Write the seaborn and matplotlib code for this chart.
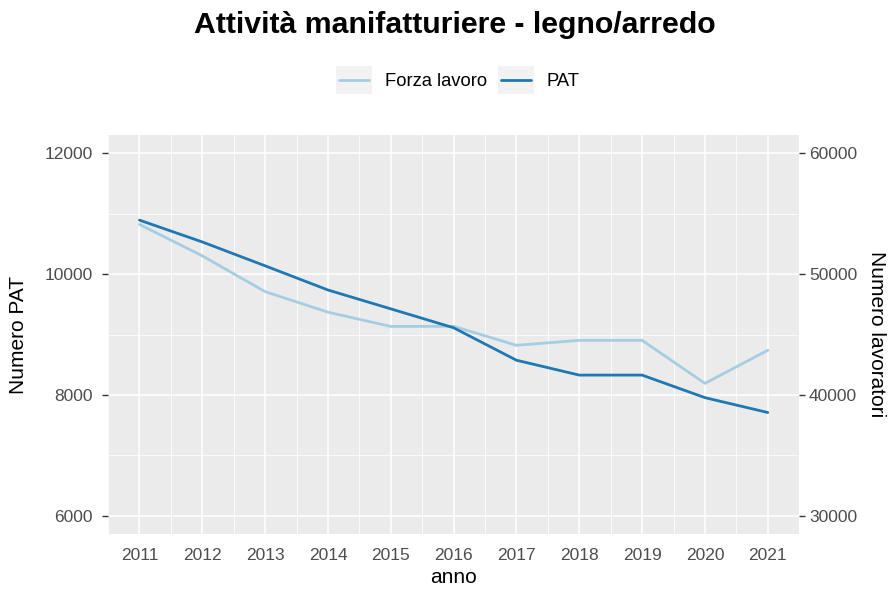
import matplotlib
matplotlib.use("Agg")
import matplotlib.pyplot as plt
from matplotlib.patches import Rectangle
from matplotlib.lines import Line2D
from matplotlib.legend_handler import HandlerBase
import seaborn as sns
import pandas as pd
import numpy as np

anni = [2011, 2012, 2013, 2014, 2015, 2016, 2017, 2018, 2019, 2020, 2021]
pat = [10893, 10532, 10137, 9737, 9425, 9112, 8575, 8329, 8329, 7956, 7710]
forza_lavoro = [54110, 51510, 48550, 46850, 45670, 45680, 44110, 44520, 44520, 40960, 43700]
serie = ["Forza lavoro", "PAT"]
colori = ["#A6CEE3", "#1F78B4"]
fattore = 5
y_ticks_sx = [6000, 8000, 10000, 12000]
y_ticks_dx = [30000, 40000, 50000, 60000]

df = pd.concat([
    pd.DataFrame({"anno": anni, "valore": np.array(forza_lavoro) / fattore, "serie": serie[0]}),
    pd.DataFrame({"anno": anni, "valore": pat, "serie": serie[1]}),
])

sns.set_theme(style="darkgrid")
plt.rcParams["font.family"] = ["Liberation Sans", "DejaVu Sans"]

fig = plt.figure(figsize=(8.89, 5.95), dpi=100)
ax = fig.add_axes([0.1215, 0.1025, 0.899 - 0.1215, 0.773 - 0.1025])
ax.set_facecolor("#EBEBEB")

sns.lineplot(data=df, x="anno", y="valore", hue="serie", palette=colori,
             hue_order=serie, lw=2.0, ax=ax, legend=False)

ax.set_xlim(anni[0] - 0.5, anni[-1] + 0.5)
ax.set_ylim(5700, 12300)
ax.set_xticks(anni)
ax.set_xticks(np.arange(anni[0] - 0.5, anni[-1] + 0.6, 1.0), minor=True)
ax.set_yticks(y_ticks_sx)
ax.set_yticks([7000, 9000, 11000], minor=True)
ax.grid(which="major", color="white", lw=1.1)
ax.grid(which="minor", color="white", lw=0.55)
for s in ax.spines.values():
    s.set_visible(False)
ax.tick_params(axis="both", which="major", length=4, width=1, color="#333333",
               labelcolor="#4D4D4D", labelsize=12.5)
ax.tick_params(axis="x", which="major", pad=6)
ax.tick_params(axis="y", which="major", pad=7)
ax.tick_params(axis="both", which="minor", length=0)
ax.set_xlabel("anno", fontsize=15, color="black", labelpad=4)
ax.set_ylabel("Numero PAT", fontsize=15, color="black", labelpad=12)

ax2 = ax.twinx()
ax2.set_ylim(5700 * fattore, 12300 * fattore)
ax2.set_yticks(y_ticks_dx)
ax2.grid(False)
for s in ax2.spines.values():
    s.set_visible(False)
ax2.tick_params(axis="y", length=4, width=1, color="#333333",
                labelcolor="#4D4D4D", labelsize=12.5, pad=3)
ax2.set_ylabel("Numero lavoratori", fontsize=15, color="black", rotation=270, labelpad=21)

fig.suptitle("Attività manifatturiere - legno/arredo", fontsize=21.8, fontweight="bold",
             color="black", x=0.512, y=1 - 25 / 595, va="center")


class KeyHandler(HandlerBase):
    def create_artists(self, legend, orig_handle, xdescent, ydescent, width, height, fontsize, trans):
        rect = Rectangle((-xdescent, -ydescent), width, height, facecolor="#F2F2F2",
                         edgecolor="none", transform=trans)
        line = Line2D([-xdescent + width * 0.08, -xdescent + width * 0.92],
                      [-ydescent + height / 2] * 2, color=orig_handle.get_color(),
                      lw=2.0, transform=trans)
        return [rect, line]


handles = [Line2D([], [], color=c) for c in colori]
leg = fig.legend(handles, serie, loc="center", bbox_to_anchor=(0.515, 1 - 80 / 595),
                 ncol=2, frameon=False, fontsize=13.2, handlelength=1.95, handleheight=1.9,
                 handletextpad=0.7, columnspacing=0.6, borderpad=0,
                 handler_map={Line2D: KeyHandler()})
for t in leg.get_texts():
    t.set_color("black")

fig.savefig("out.png", dpi=100)
